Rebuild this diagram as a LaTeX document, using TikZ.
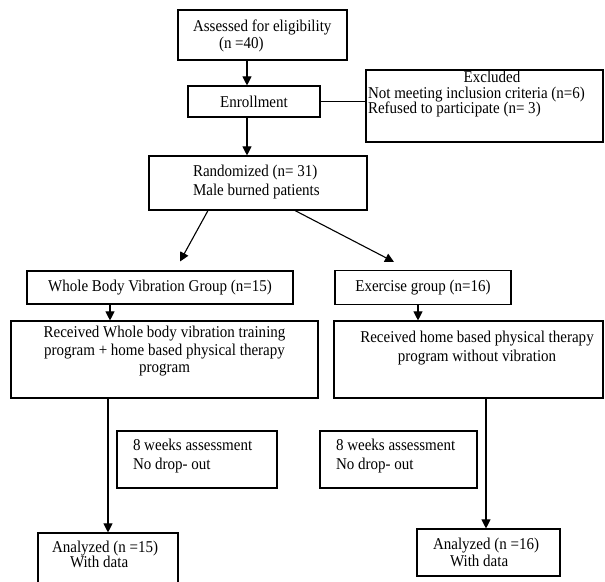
\documentclass[tikz,border=0pt]{standalone}
\usepackage{fontspec}
\setmainfont{Liberation Serif}[FakeStretch=0.91]
\usetikzlibrary{arrows.meta}
\newcommand\bx[5]{\parbox[c][#2][t]{#1}{#4\rule{0pt}{#3}#5}}
\begin{document}
\begin{tikzpicture}[x=1pt,y=1pt,
  box/.style={draw, line width=1.1pt, inner sep=0pt, font=\fontsize{16.5}{17.5}\selectfont},
  arr/.style={line width=1.1pt, -{Triangle[length=9pt,width=9pt]}},
  lnk/.style={line width=1.1pt}]
\useasboundingbox (0,0) rectangle (605,581);

\node[box] (assess) at (262.5,546) {\bx{169pt}{50pt}{22pt}{\raggedright\baselineskip=16.5pt}{\hspace*{15pt}Assessed for eligibility\\\hspace*{41pt}(n =40)}};
\node[box, minimum width=132pt, minimum height=31pt] (enroll) at (254,479.5) {Enrollment};
\node[box] (excl) at (484.5,475) {\bx{237pt}{72pt}{12.5pt}{\centering\baselineskip=15.6pt}{\hspace*{15pt}Excluded\par\raggedright\hspace*{2pt}Not meeting inclusion criteria (n=6)\\\hspace*{2pt}Refused to participate (n= 3)}};
\node[box] (rand) at (258,398) {\bx{218pt}{54pt}{21pt}{\raggedright\baselineskip=19pt}{\hspace*{44pt}Randomized (n= 31)\\\hspace*{44pt}Male burned patients}};
\node[box, minimum width=266pt, minimum height=33pt] (wbv) at (160,293.5) {Whole Body Vibration Group (n=15)};
\node[box, minimum width=176pt, minimum height=34pt] (exg) at (423,293.5) {Exercise group (n=16)};
\node[box] (recw) at (164.5,221.5) {\bx{307pt}{77pt}{17pt}{\centering}{Received Whole body vibration training\\program + home based physical therapy\\program}};
\node[box] (rech) at (468.5,221.5) {\bx{269pt}{77pt}{22pt}{\centering\baselineskip=19pt}{\hspace*{17pt}Received home based physical therapy\\\hspace*{17pt}program without vibration}};
\node[box] (wk1) at (197,121.5) {\bx{160pt}{57pt}{20pt}{\raggedright\baselineskip=19pt}{\hspace*{16pt}8 weeks assessment\\\hspace*{16pt}No drop- out}};
\node[box] (wk2) at (398.5,121.5) {\bx{157pt}{57pt}{20pt}{\raggedright\baselineskip=19pt}{\hspace*{16pt}8 weeks assessment\\\hspace*{16pt}No drop- out}};
\node[box] (an1) at (108,21.5) {\bx{140pt}{53pt}{19pt}{\raggedright\baselineskip=15.6pt}{\hspace*{14pt}Analyzed (n =15)\\\hspace*{32pt}With data}};
\node[box] (an2) at (488.5,28.5) {\bx{143pt}{47pt}{20pt}{\raggedright\baselineskip=17pt}{\hspace*{16pt}Analyzed (n =16)\\\hspace*{33pt}With data}};

\draw[arr] ([xshift=-15.5pt]assess.south) -- ([xshift=-7pt]enroll.north);
\draw[lnk] (enroll.east) -- (enroll.east -| excl.west);
\draw[arr] ([xshift=-7pt]enroll.south) -- ([xshift=-11pt]rand.north);
\draw[arr] ([xshift=-50pt]rand.south) -- ([xshift=20pt,yshift=9pt]wbv.north);
\draw[arr] ([xshift=37pt]rand.south) -- ([xshift=-29pt,yshift=8pt]exg.north);
\draw[arr] ([xshift=-50pt]wbv.south) -- ([xshift=-54.5pt]recw.north);
\draw[arr] ([xshift=-5pt]exg.south) -- ([xshift=-50.5pt]rech.north);
\draw[arr] ([xshift=-56.5pt]recw.south) -- (an1.north);
\draw[arr] ([xshift=17.5pt]rech.south) -- ([xshift=-2.5pt]an2.north);
\end{tikzpicture}
\end{document}
